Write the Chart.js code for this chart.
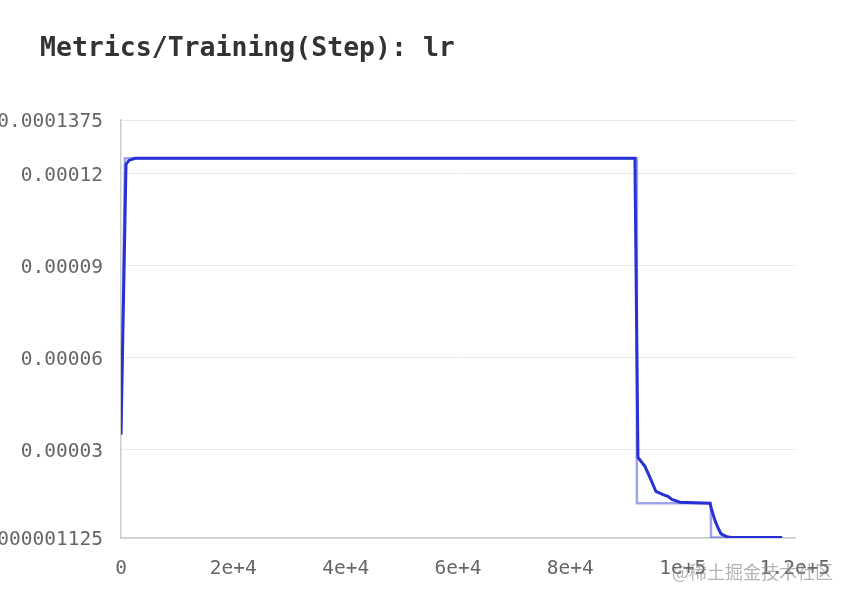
<!DOCTYPE html>
<html>
<head>
<meta charset="utf-8">
<script src="https://cdn.jsdelivr.net/npm/chart.js@4/dist/chart.umd.min.js"></script>
<style>
  body { margin: 0; background: #fff; }
  #wrap { position: relative; width: 856px; height: 598px; overflow: hidden; }
  #title {
    position: absolute; left: 40px; top: 31px;
    font: bold 26.5px 'DejaVu Sans Mono', monospace; color: #333;
  }
  #mark {
    position: absolute; left: 672px; top: 558px;
    font: 18px 'Noto Sans CJK SC', sans-serif; color: rgba(130, 130, 130, 0.6);
  }
</style>
</head>
<body>
<div id="wrap">
  <canvas id="myChart" width="856" height="598"></canvas>
  <div id="title">Metrics/Training(Step): lr</div>
  <div id="mark">@稀土掘金技术社区</div>
</div>
<script>
// raw lr (light line)
const rawSteps = [0, 700, 91800, 91850, 105000, 105050, 117700]
const rawLr = [0.0000349, 0.000125, 0.000125, 0.0000125, 0.0000125, 0.00000125, 0.00000125]

// smoothed lr (dark line)
const smoothSteps = [0, 890, 1420, 2500, 91500, 92040, 93280, 94170, 95240, 96490, 97380, 98090, 99510,
  104860, 105220, 105750, 106280, 106820, 107890, 108900, 117700]
const smoothLr = [0.0000349, 0.000123, 0.0001243, 0.000125, 0.000125, 0.0000274, 0.0000245, 0.0000209,
  0.0000163, 0.0000153, 0.0000147, 0.0000137, 0.0000128, 0.0000125, 0.0000100, 0.0000068, 0.0000045,
  0.0000025, 0.0000015, 0.00000125, 0.00000125]

const xTicks = [0, 20000, 40000, 60000, 80000, 100000, 120000]
const xLabels = ['0', '2e+4', '4e+4', '6e+4', '8e+4', '1e+5', '1.2e+5']
const yTicks = [0.000001125, 0.00003, 0.00006, 0.00009, 0.00012, 0.0001375]
const yLabels = ['0.000001125', '0.00003', '0.00006', '0.00009', '0.00012', '0.0001375']

function toPoints (xs, ys) {
  return xs.map((x, i) => ({ x, y: ys[i] }))
}

const tickFont = { family: 'DejaVu Sans Mono', size: 19.5 }

const ctx = document.getElementById('myChart').getContext('2d')
const myChart = new Chart(ctx, {
  type: 'line',
  data: {
    datasets: [
      {
        label: 'smoothed',
        data: toPoints(smoothSteps, smoothLr),
        borderColor: 'rgb(40, 50, 212)',
        borderWidth: 3,
        pointRadius: 0,
        tension: 0
      },
      {
        label: 'raw',
        data: toPoints(rawSteps, rawLr),
        borderColor: 'rgba(40, 50, 212, 0.45)',
        borderWidth: 2.5,
        pointRadius: 0,
        tension: 0
      }
    ]
  },
  options: {
    responsive: false,
    animation: false,
    layout: { padding: { top: 120, right: 61, left: 0, bottom: 0 } },
    plugins: {
      legend: { display: false },
      tooltip: { enabled: false }
    },
    scales: {
      x: {
        type: 'linear',
        min: 0,
        max: 120000,
        afterBuildTicks: (scale) => { scale.ticks = xTicks.map((v) => ({ value: v })) },
        afterFit: (scale) => { scale.height = 60 },
        ticks: {
          font: tickFont,
          color: '#666',
          padding: 19,
          maxRotation: 0,
          autoSkip: false,
          callback: (v) => xLabels[xTicks.indexOf(v)]
        },
        grid: { display: false, drawTicks: false },
        border: { color: '#ccc', width: 1.5 }
      },
      y: {
        type: 'linear',
        min: 0.000001125,
        max: 0.0001375,
        afterBuildTicks: (scale) => { scale.ticks = yTicks.map((v) => ({ value: v })) },
        afterFit: (scale) => { scale.width = 121 },
        ticks: {
          font: tickFont,
          color: '#666',
          padding: 18,
          labelOffset: 2,
          autoSkip: false,
          callback: (v) => yLabels[yTicks.indexOf(v)]
        },
        grid: { color: '#e8e8e8', drawTicks: false },
        border: { color: '#ccc', width: 1.5 }
      }
    }
  }
})
</script>
</body>
</html>
